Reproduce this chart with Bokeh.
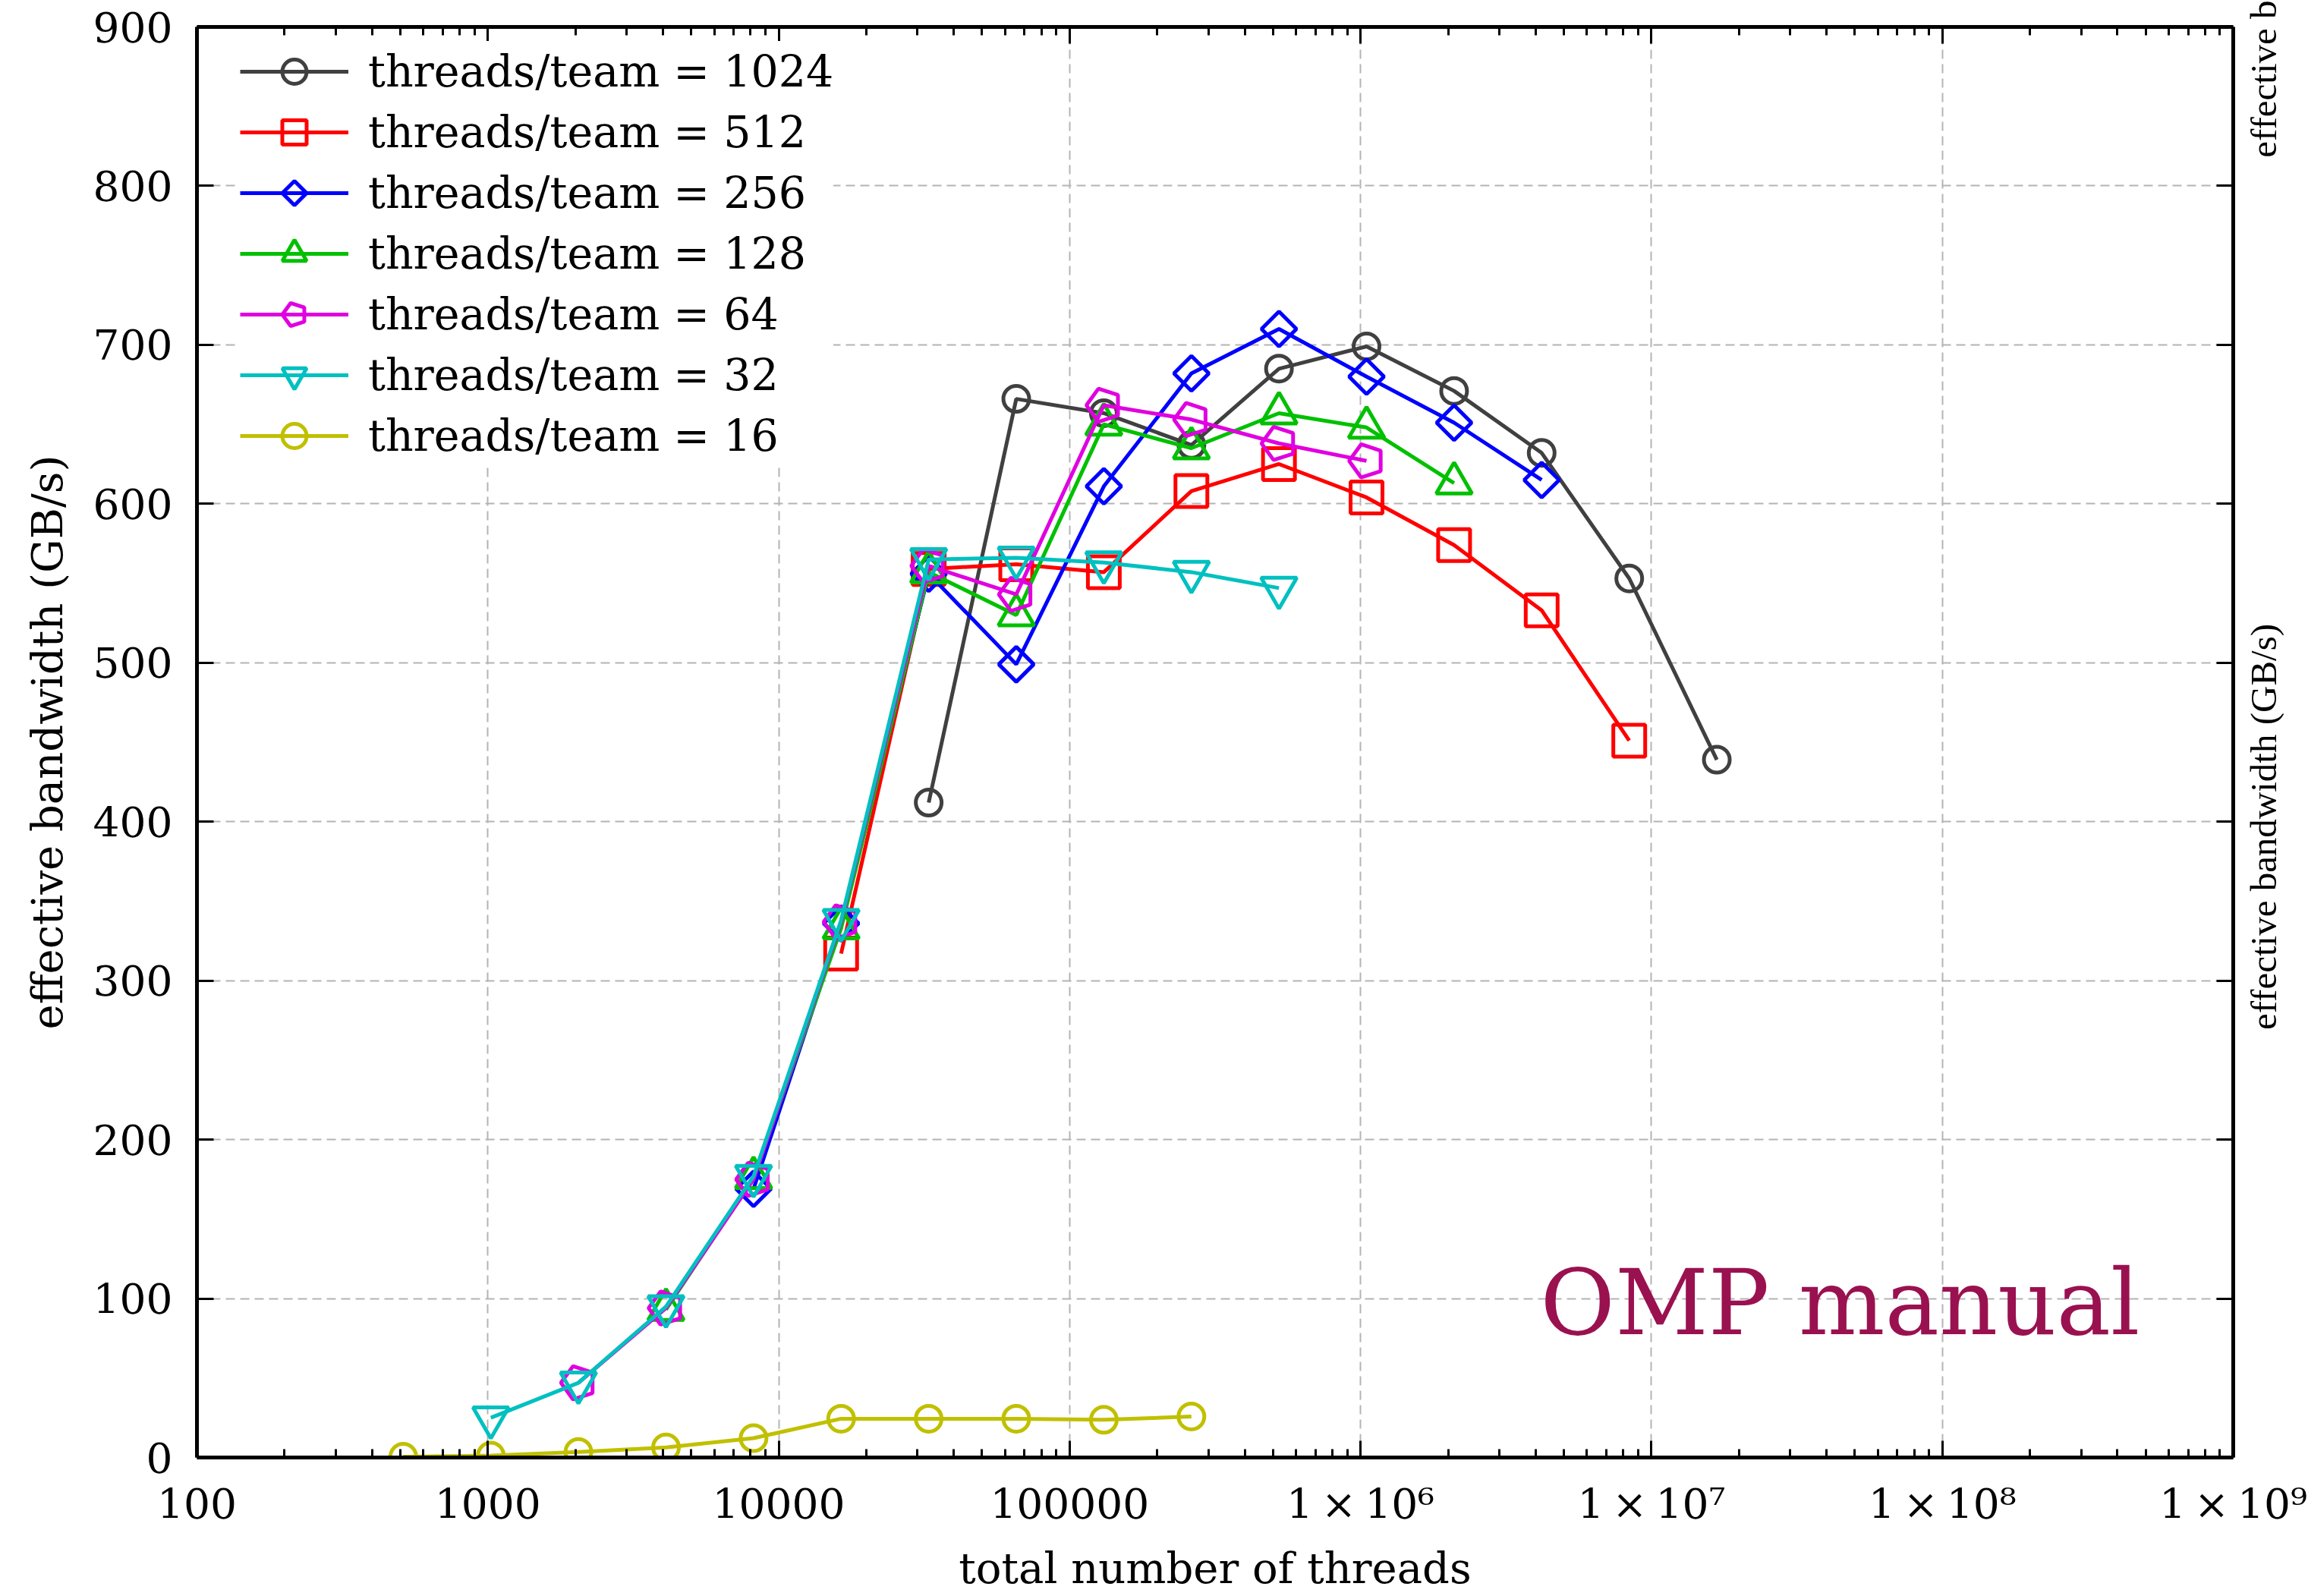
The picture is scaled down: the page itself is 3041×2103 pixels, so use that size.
import math
from bokeh.plotting import figure
from bokeh.models import (FixedTicker, LinearAxis, LogAxis, Legend, LegendItem,
                          Label, Range1d, ColumnDataSource, CustomJSTickFormatter)
from bokeh.embed import file_html
from bokeh.resources import INLINE

# ---------------- data ----------------
x_1024 = [32768, 65536, 131072, 262144, 524288, 1048576, 2097152, 4194304, 8388608, 16777216]
bw_1024 = [412, 666, 657, 637, 685, 699, 671, 632, 553, 439]

x_512 = [16384, 32768, 65536, 131072, 262144, 524288, 1048576, 2097152, 4194304, 8388608]
bw_512 = [317, 559, 562, 557, 608, 625, 604, 574, 533, 451]

x_256 = [8192, 16384, 32768, 65536, 131072, 262144, 524288, 1048576, 2097152, 4194304]
bw_256 = [169, 336, 556, 499, 611, 682, 710, 680, 651, 615]

x_128 = [4096, 8192, 16384, 32768, 65536, 131072, 262144, 524288, 1048576, 2097152]
bw_128 = [93, 176, 333, 557, 530, 650, 635, 657, 648, 613]

x_64 = [2048, 4096, 8192, 16384, 32768, 65536, 131072, 262144, 524288, 1048576]
bw_64 = [47, 94, 175, 337, 561, 543, 662, 653, 638, 627]

x_32 = [1024, 2048, 4096, 8192, 16384, 32768, 65536, 131072, 262144, 524288]
bw_32 = [25, 47, 95, 177, 338, 565, 566, 563, 557, 547]

x_16 = [512, 1024, 2048, 4096, 8192, 16384, 32768, 65536, 131072, 262144]
bw_16 = [0.5, 1.2, 3.5, 6.3, 12.2, 24.4, 24.4, 24.4, 23.7, 25.8]

labels = ["threads/team = 1024", "threads/team = 512", "threads/team = 256",
          "threads/team = 128", "threads/team = 64", "threads/team = 32",
          "threads/team = 16"]

x_ticks = [100, 1000, 10000, 100000, 1000000, 10000000, 100000000, 1000000000]
x_tick_labels = ["100", "1000", "10000", "100000",
                 "1\u2009\u00d7\u200910\u2076", "1\u2009\u00d7\u200910\u2077",
                 "1\u2009\u00d7\u200910\u2078", "1\u2009\u00d7\u200910\u2079"]
y_ticks = [0, 100, 200, 300, 400, 500, 600, 700, 800, 900]

# cut-off axis titles of the neighbouring panel (right edge of the picture)
side_positions = [269, 866]
side_texts = ["effective bandwidth (GB/s)", "effective b"]

FONT = "DejaVu Serif"

# ---------------- figure ----------------
p = figure(width=3041, height=2103, x_axis_type="log",
           x_range=Range1d(100, 1e9), y_range=Range1d(0, 900),
           output_backend="svg", toolbar_location=None,
           min_border_left=259, min_border_right=99,
           min_border_top=35, min_border_bottom=183)
p.outline_line_color = None
p.background_fill_color = "white"
p.border_fill_color = "white"

x_minor = [m * t for t in x_ticks[:-1] for m in range(2, 10)]
x_ticker = FixedTicker(ticks=x_ticks, minor_ticks=x_minor)
y_ticker = FixedTicker(ticks=y_ticks, minor_ticks=[])


def style_axis(ax, show_labels=True):
    ax.axis_line_width = 5
    ax.axis_line_color = "black"
    ax.major_tick_in = 22
    ax.major_tick_out = 0
    ax.minor_tick_in = 11
    ax.minor_tick_out = 0
    ax.major_tick_line_width = 3
    ax.minor_tick_line_width = 3
    ax.major_tick_line_color = "black"
    ax.minor_tick_line_color = "black"
    ax.major_label_text_font = FONT
    ax.major_label_text_color = "black"
    ax.axis_label_text_font = FONT
    ax.axis_label_text_font_style = "normal"
    ax.axis_label_text_font_size = "56px"
    ax.axis_label_text_color = "black"
    if show_labels:
        ax.major_label_text_font_size = "55px"
    else:
        ax.formatter = CustomJSTickFormatter(code="return ''")
        ax.major_label_text_font_size = "1px"
        ax.major_label_standoff = 0


xa = p.xaxis[0]
xa.ticker = x_ticker
xa.major_label_overrides = {t: s for t, s in zip(x_ticks, x_tick_labels)}
xa.axis_label = "total number of threads"
style_axis(xa)
xa.major_label_standoff = 29
xa.axis_label_standoff = 17

ya = p.yaxis[0]
ya.ticker = y_ticker
ya.axis_label = "effective bandwidth (GB/s)"
style_axis(ya)
ya.major_label_standoff = 32
ya.axis_label_standoff = 25

top = LogAxis(ticker=x_ticker)
style_axis(top, show_labels=False)
p.add_layout(top, "above")
right = LinearAxis(ticker=y_ticker)
style_axis(right, show_labels=False)
p.add_layout(right, "right")

# invisible axis carrying the neighbouring panel's clipped titles
side = LinearAxis(ticker=FixedTicker(ticks=side_positions, minor_ticks=[]))
side.axis_line_color = None
side.major_tick_line_color = None
side.minor_tick_line_color = None
side.major_tick_in = 0
side.major_tick_out = 0
side.minor_tick_in = 0
side.minor_tick_out = 0
side.major_label_overrides = {t: s for t, s in zip(side_positions, side_texts)}
side.major_label_orientation = math.pi / 2
side.major_label_text_font = "Liberation Serif"
side.major_label_text_font_size = "49px"
side.major_label_text_color = "black"
side.major_label_standoff = 40
p.add_layout(side, "right")

for g, tk in ((p.xgrid[0], x_ticker), (p.ygrid[0], y_ticker)):
    g.ticker = tk
    g.grid_line_color = "#b4b4b4"
    g.grid_line_width = 2
    g.grid_line_dash = "12 7"

# ---------------- series ----------------
# (x, y, colour, marker, size-or-radius, polygon sides)
series = [
    (x_1024, bw_1024, "#404040", "circle", 34, 0),
    (x_512, bw_512, "#ff0000", "square", 42, 0),
    (x_256, bw_256, "#0000ff", "ngon", 23, 4),
    (x_128, bw_128, "#00c000", "triangle", 47, 0),
    (x_64, bw_64, "#e000e0", "ngon", 23, 5),
    (x_32, bw_32, "#00c0c0", "inverted_triangle", 47, 0),
    (x_16, bw_16, "#c0c000", "circle", 34, 0),
]

LW = 5
items = []
for (xs, ys, col, mk, sz, nside), lab in zip(series, labels):
    src = ColumnDataSource(dict(x=xs, y=ys))
    lr = p.line("x", "y", source=src, line_color=col, line_width=LW)
    if mk == "ngon":
        mr = p.ngon(x="x", y="y", source=src, radius=sz, radius_units="screen", n=nside,
                    angle=math.pi / 2, fill_alpha=0, line_color=col, line_width=LW)
    else:
        mr = p.scatter("x", "y", source=src, marker=mk, size=sz, fill_alpha=0,
                       line_color=col, line_width=LW)
    items.append(LegendItem(label=lab, renderers=[lr, mr]))

legend = Legend(items=items, location=(57, 1885 - 579), margin=0, padding=18,
                spacing=0, glyph_width=143, glyph_height=80, label_height=60,
                label_standoff=26, label_text_font=FONT, label_text_font_size="57px",
                label_text_color="black", border_line_color=None,
                background_fill_color="white", background_fill_alpha=1.0)
p.add_layout(legend)

# ---------------- annotations ----------------
p.add_layout(Label(x=4.15e6, y=97.5, text="OMP manual", text_font=FONT,
                   text_font_size="120px", text_color="#9a1150",
                   text_align="left", text_baseline="alphabetic"))

open("out.html", "w").write(file_html(p, INLINE))
